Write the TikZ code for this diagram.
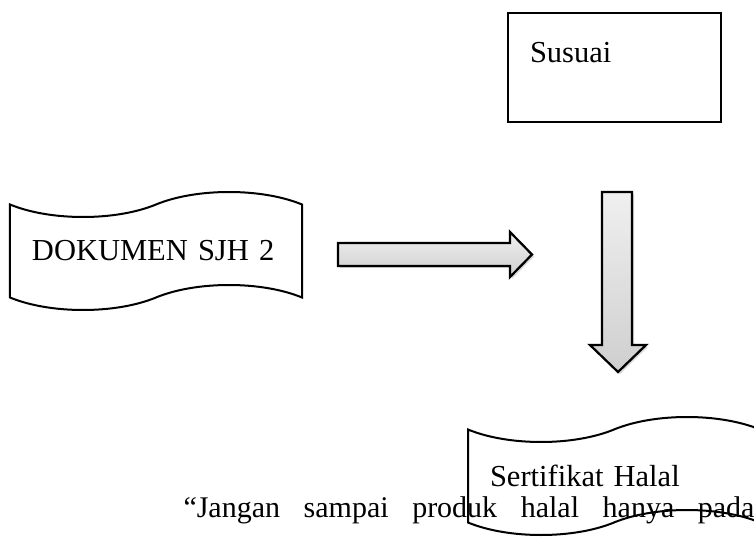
\documentclass[tikz,border=0pt]{standalone}
\usepackage{fontspec}
\setmainfont{Liberation Serif}
\usetikzlibrary{shapes.symbols,shadows}

\begin{document}
\begin{tikzpicture}[x=0.4pt,y=-0.4pt,
	tp/.style={tape, draw, line width=0.8pt, minimum width=116.8pt, minimum height=47.2pt, tape bend height=10pt, text width=99.2pt, align=left, inner xsep=8.8pt, font=\fontsize{12.2}{14}\selectfont},
	blk/.style={draw, line width=0.9pt, top color=gray!12, bottom color=gray!38, drop shadow={opacity=0.3,shadow xshift=0.8pt,shadow yshift=-0.8pt}}]
			\useasboundingbox (0,0) rectangle (754,539);
			\node[tp] (D) at (156,251) {DOKUMEN SJH 2};
			\node[tp] (H) at (614,476) {Sertifikat Halal};
			\node[draw, line width=0.8pt, minimum width=85.2pt, text width=67.6pt, inner xsep=8.8pt, inner ysep=0pt, text height=20pt, text depth=23.6pt, align=left, font=\fontsize{12.2}{14}\selectfont] (S) at (614.5,67.5) {Susuai};
			\node[anchor=base west, inner sep=0pt, font=\fontsize{12}{14}\selectfont] (Q) at (183,517) {\makebox[228.4pt][s]{“Jangan sampai produk halal hanya pada}};
			\draw[blk] (338,243) -- (510,243) -- (510,232) -- (532,254.5) -- (510,277) -- (510,266) -- (338,266) -- cycle;
			\draw[blk] (602,192) -- (632,192) -- (632,345) -- (646,345) -- (618,372) -- (590,345) -- (602,345) -- cycle;
			%\draw[->] (D) -- (H);
		\end{tikzpicture}
\end{document}
